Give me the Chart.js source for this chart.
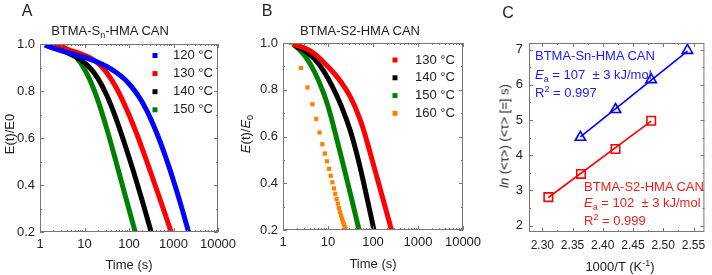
<!DOCTYPE html>
<html>
<head>
<meta charset="utf-8">
<script src="https://cdn.jsdelivr.net/npm/chart.js@4.4.0/dist/chart.umd.min.js"></script>
<style>
body { margin: 0; background: #fff; }
#wrap { position: relative; width: 712px; height: 275px; overflow: hidden;
  font-family: Arial, "Liberation Sans", sans-serif; color: #222; }
canvas { position: absolute; top: 0; }
.t { position: absolute; white-space: nowrap; transform: translate(-50%, -50%); font-size: 13px; line-height: 1; }
.rot { transform: translate(-50%, -50%) rotate(-90deg); }
.lt { font-size: 16px; }
.note { position: absolute; white-space: nowrap; font-size: 13px; line-height: 1; transform: translateY(-50%); }
.sb { font-size: 9px; position: relative; top: 3px; }
.sp { font-size: 9px; position: relative; top: -5px; }
.blue { color: #1a1aff; }
.red { color: #f01c1c; }
</style>
</head>
<body>
<div id="wrap">
  <canvas id="cA" width="250" height="275" style="left:0px"></canvas>
  <canvas id="cB" width="250" height="275" style="left:240px"></canvas>
  <canvas id="cC" width="242" height="275" style="left:470px"></canvas>

  <div class="t lt" style="left:27px;top:11px">A</div>
  <div class="t lt" style="left:267px;top:11px">B</div>
  <div class="t lt" style="left:508px;top:13px">C</div>

  <div class="t" style="left:110px;top:30px">BTMA-S<span class="sb">n</span>-HMA CAN</div>
  <div class="t" style="left:360px;top:30px">BTMA-S2-HMA CAN</div>

  <div class="t rot" style="left:9px;top:134px">E(t)/E0</div>
  <div class="t rot" style="left:245px;top:134px"><i>E</i>(t)/<i>E</i><span class="sb">0</span></div>
  <div class="t rot" style="left:504px;top:136px"><i>ln</i> (&lt;τ&gt;) (&lt;τ&gt; [=] s)</div>

  <div class="t" style="left:129px;top:264px">Time (s)</div>
  <div class="t" style="left:373px;top:263px">Time (s)</div>
  <div class="t" style="left:620px;top:266px">1000/T (K<span class="sp">-1</span>)</div>

  <div class="note blue" style="left:535px;top:55px">BTMA-Sn-HMA CAN</div>
  <div class="note blue" style="left:535px;top:74px"><i>E</i><span class="sb">a</span> = 107 &nbsp;± 3 kJ/mol</div>
  <div class="note blue" style="left:535px;top:92px">R<span class="sp">2</span> = 0.997</div>
  <div class="note red" style="left:584px;top:186px">BTMA-S2-HMA CAN</div>
  <div class="note red" style="left:584px;top:202px"><i>E</i><span class="sb">a</span> = 102 &nbsp;± 3 kJ/mol</div>
  <div class="note red" style="left:584px;top:220px">R<span class="sp">2</span> = 0.999</div>
</div>
<script>
// ticks
const timeTicks = [1, 10, 100, 1000, 10000];
const modTicks = [0.2, 0.4, 0.6, 0.8, 1.0];
const modMinor = [0.3, 0.5, 0.7, 0.9];
const invTTicks = [2.30, 2.35, 2.40, 2.45, 2.50, 2.55];
const invTMinor = [2.325, 2.375, 2.425, 2.475, 2.525];
const lnTauTicks = [2, 3, 4, 5, 6, 7];
const lnTauMinor = [2.5, 3.5, 4.5, 5.5, 6.5];

// panel A: BTMA-Sn-HMA CAN relaxation
const snLabels = ['120 °C', '130 °C', '140 °C', '150 °C'];
const snT120 = [1.3, 2, 3.2, 5, 7.9, 12.6, 20, 31.6, 50, 79, 100, 126, 158, 200, 251, 316, 398, 501, 631, 794, 1000, 1259, 1585, 1995, 2512];
const snE120 = [0.995, 0.982, 0.971, 0.960, 0.948, 0.937, 0.922, 0.904, 0.881, 0.851, 0.831, 0.808, 0.782, 0.751, 0.716, 0.676, 0.632, 0.584, 0.532, 0.477, 0.418, 0.357, 0.293, 0.226, 0.157];
const snT130 = [1.3, 2, 3.2, 5, 7.9, 12.6, 20, 31.6, 50, 79, 126, 200, 316, 501, 794, 1000];
const snE130 = [0.998, 0.993, 0.984, 0.972, 0.96, 0.944, 0.919, 0.878, 0.819, 0.743, 0.653, 0.553, 0.447, 0.338, 0.227, 0.171];
const snT140 = [1.3, 2, 3.2, 5, 7.9, 12.6, 20, 31.6, 50, 79, 126, 200, 316, 400];
const snE140 = [0.996, 0.984, 0.971, 0.955, 0.934, 0.903, 0.854, 0.782, 0.688, 0.578, 0.458, 0.331, 0.199, 0.13];
const snT150 = [1.7, 2, 3.2, 5, 7.9, 12.6, 20, 31.6, 50, 79, 126, 160];
const snE150 = [1.0, 0.998, 0.988, 0.966, 0.924, 0.856, 0.76, 0.64, 0.506, 0.367, 0.227, 0.157];

// panel B: BTMA-S2-HMA CAN relaxation
const s2Labels = ['130 °C', '140 °C', '150 °C', '160 °C'];
const s2T130 = [1.67, 2, 3.2, 5, 7.9, 12.6, 20, 31.6, 50, 63, 79, 126, 200, 251, 316];
const s2E130 = [0.995, 0.99, 0.976, 0.954, 0.919, 0.878, 0.83, 0.768, 0.68, 0.623, 0.557, 0.417, 0.277, 0.207, 0.137];
const s2T140 = [1.8, 2, 3.2, 5, 7.9, 12.6, 20, 31.6, 50, 79, 105, 126];
const s2E140 = [0.99, 0.985, 0.964, 0.932, 0.882, 0.812, 0.728, 0.622, 0.48, 0.31, 0.2, 0.127];
const s2T150 = [1.67, 2, 3.2, 5, 7.9, 10, 12.6, 20, 31.6, 49, 56];
const s2E150 = [0.995, 0.983, 0.94, 0.877, 0.788, 0.73, 0.66, 0.509, 0.353, 0.2, 0.15];
const s2T160 = [1.5, 2.5, 3.5, 4.5, 5.5, 6.5, 7.5, 8.5, 9.5, 10.5, 11.5, 12.5, 13.5, 14.5, 15.5, 16.5, 17.5, 18.5, 19.5, 20.5, 21.5, 22.5, 23.5, 24.5, 25.5];
const s2E160 = [1.0, 0.893, 0.81, 0.738, 0.675, 0.617, 0.567, 0.527, 0.494, 0.462, 0.432, 0.404, 0.378, 0.355, 0.333, 0.313, 0.294, 0.277, 0.262, 0.248, 0.236, 0.225, 0.214, 0.204, 0.195];

// panel C: Arrhenius plot
const invTSn = [2.363, 2.421, 2.480, 2.540];
const lnTauSn = [4.51, 5.30, 6.15, 6.98];
const invTS2 = [2.310, 2.364, 2.421, 2.480];
const lnTauS2 = [2.81, 3.47, 4.18, 4.98];
const fitXSn = [2.363, 2.540];
const fitYSn = [4.52, 6.96];
const fitXS2 = [2.310, 2.480];
const fitYS2 = [2.80, 4.97];

const FONT = "Arial, 'Liberation Sans', sans-serif";
Chart.defaults.font.family = FONT;
Chart.defaults.font.size = 13;
Chart.defaults.color = '#222';

const pts = (xs, ys) => xs.map((x, i) => ({ x: x, y: ys[i] }));

// log minor ticks 2..9 per decade
const logMinor = [];
for (let d = 1; d < 10000; d *= 10) {
  for (let m = 2; m < 10; m++) logMinor.push(d * m);
}

// box round the plot with inward ticks
const framePlugin = {
  id: 'frame',
  afterDatasetsDraw(chart, args, opts) {
    const { ctx, chartArea: a, scales } = chart;
    ctx.save();
    ctx.strokeStyle = '#777';
    ctx.lineWidth = 1;
    ctx.strokeRect(a.left + 0.5, a.top + 0.5, a.width - 1, a.height - 1);
    const tick = (scale, values, len) => {
      values.forEach(v => {
        const p = Math.round(scale.getPixelForValue(v)) + 0.5;
        ctx.beginPath();
        if (scale.isHorizontal()) {
          ctx.moveTo(p, a.bottom); ctx.lineTo(p, a.bottom - len);
          ctx.moveTo(p, a.top); ctx.lineTo(p, a.top + len);
        } else {
          ctx.moveTo(a.left, p); ctx.lineTo(a.left + len, p);
          ctx.moveTo(a.right, p); ctx.lineTo(a.right - len, p);
        }
        ctx.stroke();
      });
    };
    tick(scales.x, opts.xMajor, 4);
    tick(scales.x, opts.xMinor, 2);
    tick(scales.y, opts.yMajor, 4);
    tick(scales.y, opts.yMinor, 2);
    ctx.restore();
  }
};

// legend inside the plot (square + label)
const legendPlugin = {
  id: 'inLegend',
  afterDraw(chart, args, opts) {
    if (!opts.show) return;
    const ctx = chart.ctx;
    ctx.save();
    ctx.font = '13px ' + FONT;
    ctx.textBaseline = 'middle';
    chart.data.datasets.forEach((ds, i) => {
      const y = opts.y + i * opts.gap;
      ctx.fillStyle = ds.backgroundColor;
      ctx.fillRect(opts.x - 2.5, y - 2.5, 5, 5);
      ctx.fillStyle = '#222';
      ctx.fillText(ds.label, opts.x + opts.textDx, y);
    });
    ctx.restore();
  }
};

function curve(label, color, xs, ys) {
  return {
    label: label, data: pts(xs, ys),
    borderColor: color, backgroundColor: color, borderWidth: 5,
    pointRadius: 0, cubicInterpolationMode: 'monotone'
  };
}

function scaleOpts(o) {
  return {
    type: o.type, min: o.min, max: o.max,
    grid: { display: false, drawTicks: false },
    border: { display: false },
    afterBuildTicks: s => { s.ticks = o.ticks.map(v => ({ value: v })); },
    ticks: { padding: o.pad, autoSkip: false, maxRotation: 0, callback: o.fmt, font: { size: o.size || 13 } },
    afterFit: s => {
      if (o.w) { s.width = o.w; s.paddingTop = 0; s.paddingBottom = 0; }
      if (o.h) { s.height = o.h; s.paddingLeft = 0; s.paddingRight = 0; }
    }
  };
}

function relaxChart(id, datasets, yW, xH, pad, legend) {
  new Chart(document.getElementById(id), {
    type: 'line',
    data: { datasets: datasets },
    options: {
      responsive: false, animation: false, events: [],
      layout: { padding: pad },
      scales: {
        x: scaleOpts({ type: 'logarithmic', min: 1, max: 10000, ticks: timeTicks, pad: 5, h: xH, fmt: v => String(v) }),
        y: scaleOpts({ type: 'linear', min: 0.2, max: 1.0, ticks: modTicks, pad: 5, w: yW, fmt: v => v.toFixed(1) })
      },
      plugins: {
        legend: { display: false }, tooltip: { enabled: false },
        frame: { xMajor: timeTicks, xMinor: logMinor, yMajor: modTicks, yMinor: modMinor },
        inLegend: legend
      }
    },
    plugins: [framePlugin, legendPlugin]
  });
}

relaxChart('cA', [
  curve(snLabels[0], '#0000ff', snT120, snE120),
  curve(snLabels[1], '#ff0000', snT130, snE130),
  curve(snLabels[2], '#000000', snT140, snE140),
  curve(snLabels[3], '#008000', snT150, snE150)
], 40, 43, { left: 0, top: 44, right: 32, bottom: 0 },
  { show: true, x: 155, y: 55.5, gap: 18.1, textDx: 18 });

relaxChart('cB', [
  curve(s2Labels[0], '#ff0000', s2T130, s2E130),
  curve(s2Labels[1], '#000000', s2T140, s2E140),
  curve(s2Labels[2], '#008000', s2T150, s2E150),
  {
    label: s2Labels[3], data: pts(s2T160, s2E160), showLine: false,
    pointStyle: 'rect', pointRadius: 3, borderWidth: 0,
    backgroundColor: '#ff8000', borderColor: '#ff8000'
  }
], 43, 45, { left: 0, top: 43, right: 27, bottom: 0 },
  { show: true, x: 155, y: 60, gap: 17.8, textDx: 20 });

new Chart(document.getElementById('cC'), {
  type: 'line',
  data: {
    datasets: [
      { label: 'fit Sn', data: pts(fitXSn, fitYSn), borderColor: '#0000ff', borderWidth: 1.6, pointRadius: 0 },
      { label: 'BTMA-Sn-HMA CAN', data: pts(invTSn, lnTauSn), showLine: false, pointStyle: 'triangle',
        pointRadius: 6, borderWidth: 1.6, borderColor: '#0000ff', backgroundColor: 'rgba(0,0,0,0)' },
      { label: 'fit S2', data: pts(fitXS2, fitYS2), borderColor: '#ff0000', borderWidth: 1.6, pointRadius: 0 },
      { label: 'BTMA-S2-HMA CAN', data: pts(invTS2, lnTauS2), showLine: false, pointStyle: 'rect',
        pointRadius: 6, borderWidth: 1.6, borderColor: '#ff0000', backgroundColor: 'rgba(0,0,0,0)' }
    ]
  },
  options: {
    responsive: false, animation: false, events: [],
    layout: { padding: { left: 0, top: 43, right: 4, bottom: 0 } },
    scales: {
      x: scaleOpts({ type: 'linear', min: 2.278, max: 2.568, ticks: invTTicks, pad: 6, h: 43, size: 12, fmt: v => v.toFixed(2) }),
      y: scaleOpts({ type: 'linear', min: 1.82, max: 7.19, ticks: lnTauTicks, pad: 6, w: 59, fmt: v => String(v) })
    },
    plugins: {
      legend: { display: false }, tooltip: { enabled: false },
      frame: { xMajor: invTTicks, xMinor: invTMinor, yMajor: lnTauTicks, yMinor: lnTauMinor },
      inLegend: { show: false }
    }
  },
  plugins: [framePlugin, legendPlugin]
});
</script>
</body>
</html>
